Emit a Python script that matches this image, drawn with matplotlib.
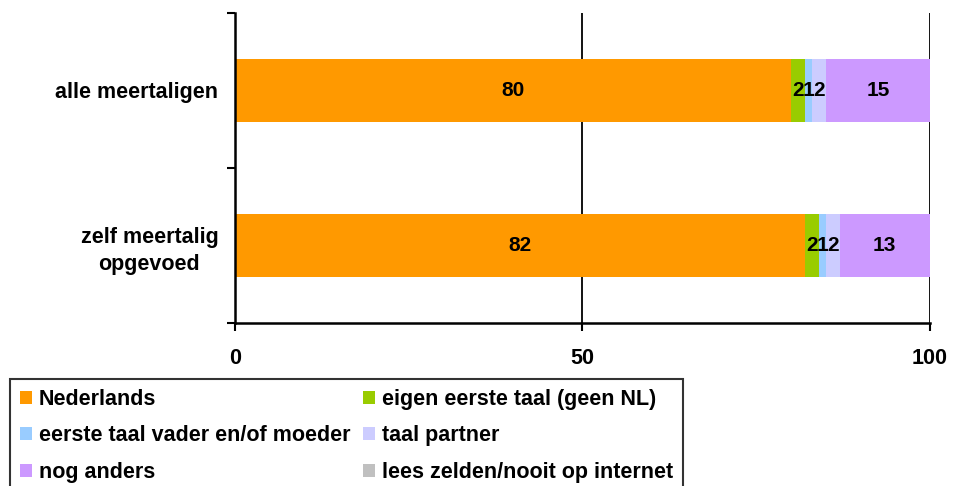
import numpy as np
import matplotlib
matplotlib.use("Agg")
import matplotlib.pyplot as plt

plt.rcParams['font.family'] = ['Liberation Sans', 'DejaVu Sans']
plt.rcParams['font.weight'] = 'bold'

categories = ['alle meertaligen', 'zelf meertalig\nopgevoed']
series_names = ['Nederlands', 'eigen eerste taal (geen NL)',
                'eerste taal vader en/of moeder', 'taal partner',
                'nog anders', 'lees zelden/nooit op internet']
values = [
    [80, 82],   # Nederlands
    [2, 2],     # eigen eerste taal
    [1, 1],     # eerste taal vader en/of moeder
    [2, 2],     # taal partner
    [15, 13],   # nog anders
    [0, 0],     # lees zelden/nooit op internet
]
colors = ['#FF9900', '#99CC00', '#99CCFF', '#CCCCFF', '#CC99FF', '#C0C0C0']
xticks = [0, 50, 100]

FS = 15.5

fig = plt.figure(figsize=(9.54, 4.86), dpi=100)
ax = fig.add_axes([0.2463, 0.3354, 0.9748 - 0.2463, 0.9733 - 0.3354])

y = np.arange(len(categories))
left = np.zeros(len(categories))
handles = []
for name, vals, col in zip(series_names, values, colors):
    vals = np.array(vals, dtype=float)
    bars = ax.barh(y, vals, left=left, height=0.41, color=col, label=name)
    handles.append(bars)
    for yi, v, l in zip(y, vals, left):
        if v > 0:
            ax.text(l + v / 2, yi, f'{v:g}', ha='center', va='center',
                    fontsize=15, fontweight='bold', color='black')
    left += vals

ax.set_xlim(0, 100)
ax.set_ylim(1.5, -0.5)
ax.set_xticks(xticks)
ax.set_xticklabels([str(t) for t in xticks], fontsize=FS, fontweight='bold')
ax.set_yticks([-0.5, 0.5, 1.5])
ax.set_yticklabels([])
ax.set_yticks(y, minor=True)
ax.set_yticklabels(categories, minor=True, fontsize=FS, fontweight='bold',
                   linespacing=1.4)
for t in ax.get_yticklabels(minor=True):
    t.set_multialignment('center')
ax.tick_params(axis='y', which='minor', length=0, pad=12)
ax.tick_params(axis='y', which='major', length=6, width=1.5, direction='out')
ax.tick_params(axis='x', length=6, width=1.5, direction='out', pad=12)

for x in [50, 100]:
    ax.axvline(x, color='black', lw=1.3, zorder=0.5)

for s in ['top', 'right']:
    ax.spines[s].set_visible(False)
for s in ['left', 'bottom']:
    ax.spines[s].set_linewidth(1.8)

# legend fills column-wise, so reorder to get row-wise order
order = [0, 2, 4, 1, 3, 5]
leg = fig.legend(handles=[handles[i] for i in order],
                 labels=[series_names[i] for i in order], ncol=2,
                 loc='upper left', bbox_to_anchor=(10 / 954, 1 - 379 / 486),
                 fontsize=FS, frameon=True, fancybox=False,
                 handlelength=0.55, handleheight=0.55, handletextpad=0.33,
                 labelspacing=0.72, columnspacing=0.6, borderpad=0.45,
                 borderaxespad=0)
leg.get_frame().set_edgecolor('black')
leg.get_frame().set_linewidth(1.5)
for t in leg.get_texts():
    t.set_fontweight('bold')

fig.savefig('out.png', dpi=100)
